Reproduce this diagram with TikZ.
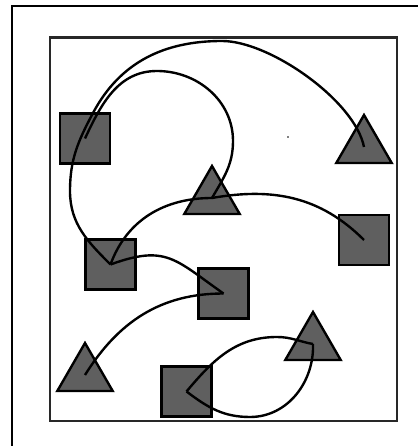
\documentclass[tikz,border=0pt]{standalone}
\usetikzlibrary{shapes.geometric}
\definecolor{shapefill}{RGB}{95,95,95}
\definecolor{framegray}{RGB}{40,40,40}
\begin{document}
\begin{tikzpicture}[x=0.5mm,y=0.5mm,
  sqbox/.style={rectangle, draw=black, fill=shapefill, line width=3.4pt, minimum size=25mm, inner sep=0pt, outer sep=0pt},
  tribox/.style={regular polygon, regular polygon sides=3, draw=black, fill=shapefill, line width=3.4pt, minimum size=32mm, inner sep=0pt, outer sep=0pt},
  link/.style={draw=black, line width=3.4pt},
  ]
\useasboundingbox (0,0) rectangle (418,446);
\fill[white] (0,0) rectangle (418,446);
% outer frame (only top and left visible)
\draw[line width=2pt] (12,0) -- (12,440) -- (418,440);
% inner frame
\draw[line width=4pt, framegray] (50,25) rectangle (397,408.5);
% squares
\node[sqbox] (sqA) at (85,307.5) {};
\node[sqbox] (sqB) at (110.5,181.5) {};
\node[sqbox] (sqC) at (223.5,152.5) {};
\node[sqbox] (sqD) at (364,206) {};
\node[sqbox] (sqE) at (186.5,54.5) {};
% triangles
\node[tribox] (triA) at (364,299) {};
\node[tribox] (triB) at (212,248) {};
\node[tribox] (triC) at (85,71) {};
\node[tribox] (triD) at (313,102) {};
% speck
\fill (288,309) circle (0.8);
% connectors
\draw[link] (sqB.center) to[out=135,in=-90] (70,255) to[out=90,in=-118] (93,333)
  to[out=62,in=180] (222,405) .. controls (270,405) and (355,345) .. (triA.center);
\draw[link] (sqA.center) to[out=65,in=180] (157,375) to[out=0,in=90] (233,305)
  to[out=-90,in=60] (triB.center);
\draw[link] (sqB.center) to[out=70,in=180] (triB.center);
\draw[link] (triB.center) to[out=10,in=135] (sqD.center);
\draw[link] (sqB.center) to[out=20,in=145,looseness=1.3] (sqC.center);
\draw[link] (sqC.center) to[out=180,in=58] (triC.center);
\draw[link] (sqE.center) to[out=50,in=180] (277,109) to[out=0,in=170] (triD.center);
\draw[link] (triD.center) to[out=-88,in=0] (250,29) to[out=180,in=-37] (sqE.center);
\end{tikzpicture}
\end{document}
